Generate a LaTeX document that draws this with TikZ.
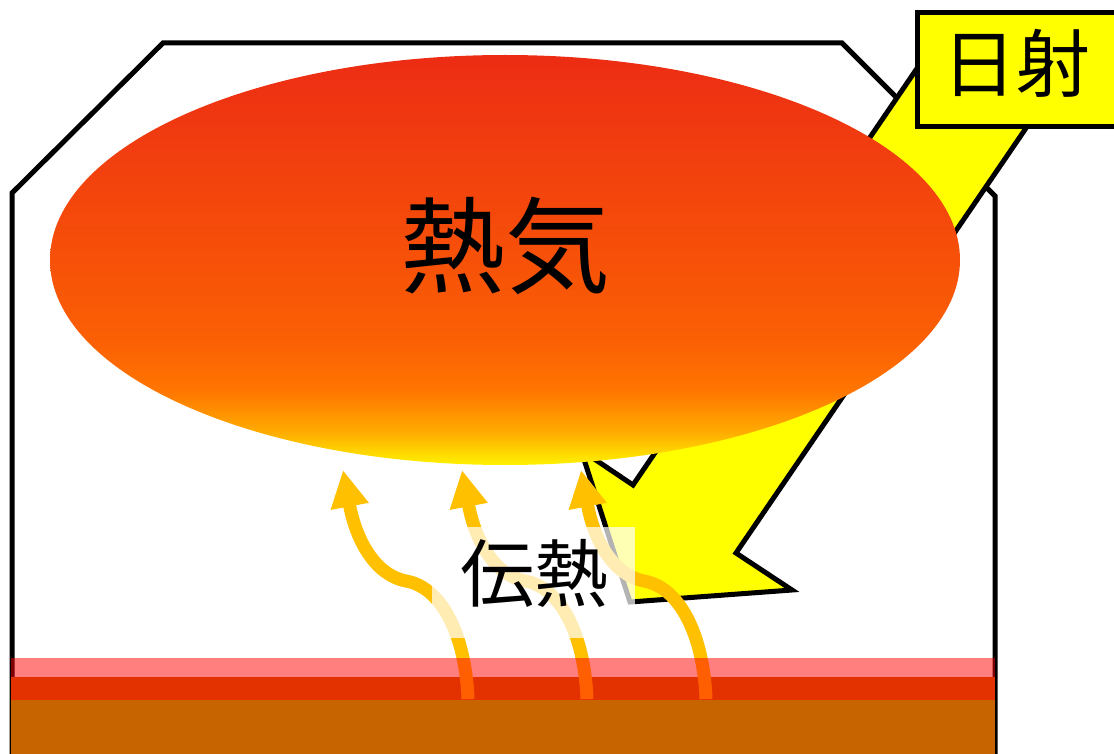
\documentclass[tikz,border=0pt]{standalone}
\usepackage{fontspec}
\setmainfont{Noto Sans CJK JP}
\usetikzlibrary{arrows.meta,shapes.geometric}

\definecolor{heatY}{RGB}{255,242,0}
\definecolor{heatA}{RGB}{255,172,0}
\definecolor{heatO}{RGB}{255,118,0}
\definecolor{heatOR}{RGB}{251,96,4}
\definecolor{heatR}{RGB}{236,44,20}
\definecolor{flowamber}{RGB}{255,192,0}
\definecolor{soilbrown}{RGB}{200,100,0}
\definecolor{raysun}{RGB}{255,255,0}

% warm air: red on top, orange in the middle, yellow at the bottom
\pgfdeclareverticalshading{heatair}{100bp}{%
  color(0bp)=(heatY); color(25bp)=(heatY); color(29bp)=(heatA);
  color(34bp)=(heatO); color(40bp)=(heatOR); color(75bp)=(heatR);
  color(100bp)=(heatR)}

\tikzset{
  wall/.style={draw=black, line width=5pt, line join=miter},
  sunray/.style={draw=black, fill=raysun, line width=5pt, line join=miter},
  heatflow/.style={draw=flowamber, line width=13pt,
    -{Triangle[width=36pt,length=37pt]}},
  bigtext/.style={inner sep=0pt, font=\fontsize{105}{110}\selectfont},
  labeltext/.style={inner sep=0pt, font=\fontsize{74}{80}\selectfont},
  sunbox/.style={draw=black, fill=raysun, line width=5pt,
    minimum width=220pt, minimum height=114pt, inner sep=0pt},
  veil/.style={fill=white, fill opacity=0.7, minimum width=203pt,
    minimum height=111pt, inner sep=0pt}
}

\begin{document}
\begin{tikzpicture}[x=1pt, y=-1pt]
  \useasboundingbox (0,0) rectangle (1114,754);
  \clip (0,0) rectangle (1114,754);

  % house outline, open at the bottom
  \draw[wall] (12,770) -- (12,193) -- (163,43) -- (842,43)
              -- (995,196) -- (995,770);

  % incoming solar radiation
  \draw[sunray] (950,20) -- (633,485) -- (581,450) -- (630,602)
                -- (792,590) -- (736,553) -- (1052,90) -- cycle;

  % hot air under the roof
  \node (hot) [ellipse, shade, shading=heatair, minimum width=910pt,
               minimum height=410pt, inner sep=0pt] at (505,260) {};
  \node (hotlabel) [bigtext] at (505,246) {熱気};

  % ground
  \fill[soilbrown] (11,677) rectangle (995,770);

  % heat rising from the floor
  \foreach \i/\dx in {1/0, 2/119, 3/238} {
    \coordinate (f\i s) at (468+\dx,699);
    \coordinate (f\i m) at (406+\dx,581);
    \coordinate (f\i e) at (343+\dx,470);
    \draw[heatflow] (f\i s) .. controls +(-2,-57) and +(39,7) .. (f\i m)
                            .. controls +(-31,-6) and +(13,70) .. (f\i e);
  }

  % warm floor surface
  \fill[red, fill opacity=0.5] (11,658) rectangle (995,700);

  % labels
  \node (veil) [veil] at (533.5,582.5) {};
  \node (flowlabel) [labeltext] at (534,573) {伝熱};

  \node (sun) [sunbox] at (1027,70) {};
  \node (sunlabel) [labeltext] at (1016,63) {日射};
\end{tikzpicture}
\end{document}
